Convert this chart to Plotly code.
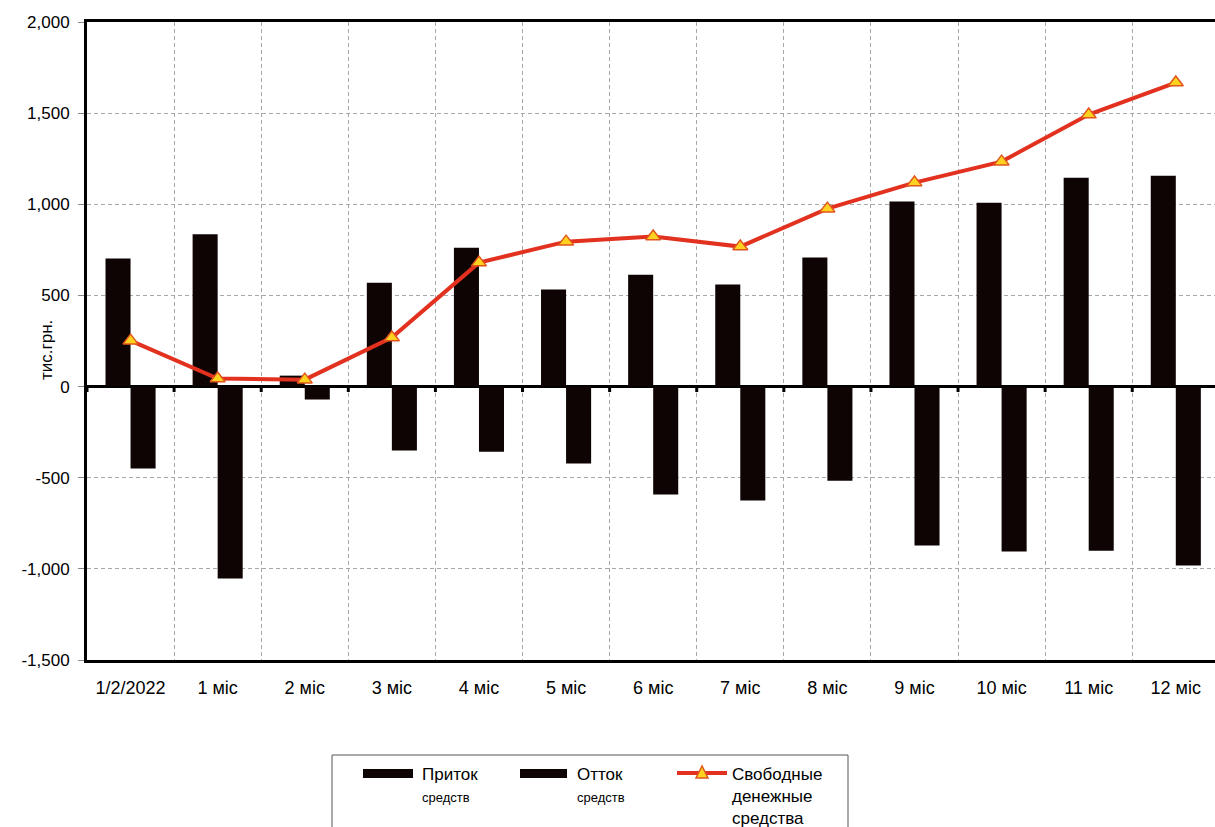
import plotly.graph_objects as go

# Periods along the horizontal axis
categories = ["1/2/2022", "1 міс", "2 міс", "3 міс", "4 міс", "5 міс", "6 міс",
              "7 міс", "8 міс", "9 міс", "10 міс", "11 міс", "12 міс"]

# Cash inflow, outflow and free cash balance (thousand UAH)
inflow = [702, 835, 60, 570, 762, 532, 614, 560, 708, 1015, 1009, 1146, 1157]
outflow = [-450, -1053, -71, -351, -357, -422, -592, -625, -516, -872, -905, -900, -982]
free_cash = [252, 44, 38, 269, 680, 795, 823, 768, 976, 1119, 1234, 1492, 1668]

y_ticks = [-1500, -1000, -500, 0, 500, 1000, 1500, 2000]
y_tick_text = [f"{v:,}" for v in y_ticks]

FONT = "Liberation Sans, Arial, sans-serif"
BAR_COLOR = "#0f0404"
LINE_COLOR = "#e2321f"
MARKER_FILL = "#ffd21f"
MARKER_EDGE = "#e0561c"
GRID_COLOR = "#a8a8a8"

# page geometry of the plotting area
W, H = 1215, 827
M_L, M_T, M_B = 87, 22, 167
PLOT_W = 1128
PLOT_H = H - M_T - M_B


def px_x(px):
    return (px - M_L) / PLOT_W


def px_y(py):
    return (H - M_B - py) / PLOT_H


x_pos = list(range(len(categories)))

fig = go.Figure()

fig.add_trace(go.Bar(
    x=x_pos, y=inflow, name="Приток средств",
    marker=dict(color=BAR_COLOR, line=dict(width=0)),
))
fig.add_trace(go.Bar(
    x=x_pos, y=outflow, name="Отток средств",
    marker=dict(color=BAR_COLOR, line=dict(width=0)),
))
fig.add_trace(go.Scatter(
    x=x_pos, y=free_cash, name="Свободные денежные средства",
    mode="lines+markers",
    line=dict(color=LINE_COLOR, width=4),
    marker=dict(symbol="triangle-up", size=13, color=MARKER_FILL,
                line=dict(color=MARKER_EDGE, width=1.5)),
))

shapes = []

# short tick marks on the zero line at the category boundaries
for i in range(len(categories)):
    shapes.append(dict(
        type="line", xref="x", yref="y",
        x0=i - 0.5, x1=i - 0.5, y0=0, y1=-30,
        line=dict(color="black", width=3),
    ))

# legend frame (runs off the bottom of the page)
shapes.append(dict(
    type="rect", xref="paper", yref="paper",
    x0=px_x(332), x1=px_x(848), y0=px_y(870), y1=px_y(755),
    line=dict(color="#555555", width=1), fillcolor="white", layer="above",
))
# legend keys for the two bar series
for left, right in [(363, 413), (520, 567)]:
    shapes.append(dict(
        type="rect", xref="paper", yref="paper",
        x0=px_x(left), x1=px_x(right), y0=px_y(778), y1=px_y(769),
        line=dict(width=0), fillcolor=BAR_COLOR, layer="above",
    ))
# legend key for the line series
shapes.append(dict(
    type="line", xref="paper", yref="paper",
    x0=px_x(677), x1=px_x(727), y0=px_y(773), y1=px_y(773),
    line=dict(color=LINE_COLOR, width=4), layer="above",
))
tri = [(702, 766), (696, 778), (708, 778)]
tri_path = "M {} {} L {} {} L {} {} Z".format(
    *[v for p in tri for v in (px_x(p[0]), px_y(p[1]))])
shapes.append(dict(
    type="path", xref="paper", yref="paper", path=tri_path,
    fillcolor=MARKER_FILL, line=dict(color=MARKER_EDGE, width=1.5), layer="above",
))

legend_texts = [
    ("Приток", 420, 774, 17),
    ("средств", 420, 798, 13),
    ("Отток", 575, 774, 17),
    ("средств", 575, 798, 13),
    ("Свободные", 730, 774, 17),
    ("денежные", 730, 796, 17),
    ("средства", 730, 818, 17),
]

annotations = [dict(
    text="тис.грн.", textangle=-90,
    xref="paper", yref="paper", x=px_x(46), y=px_y(350),
    xanchor="center", yanchor="middle", showarrow=False,
    font=dict(family=FONT, size=17, color="black"),
)]
for txt, lx, ly, fs in legend_texts:
    annotations.append(dict(
        text=txt, xref="paper", yref="paper", x=px_x(lx), y=px_y(ly),
        xanchor="left", yanchor="middle", showarrow=False,
        font=dict(family=FONT, size=fs, color="black"),
    ))

fig.update_layout(
    width=W, height=H,
    margin=dict(l=M_L, r=0, t=M_T, b=M_B),
    paper_bgcolor="white", plot_bgcolor="white",
    barmode="group", bargap=0.425, bargroupgap=0,
    font=dict(family=FONT, size=17, color="black"),
    showlegend=False,
    shapes=shapes,
    annotations=annotations,
    xaxis=dict(
        range=[-0.5, 12.45],
        tickmode="array", tickvals=x_pos, ticktext=categories,
        showgrid=False,
        minor=dict(tick0=0.5, dtick=1, showgrid=True, gridcolor=GRID_COLOR,
                   griddash="4px,3px", gridwidth=1, ticks=""),
        showline=True, linecolor="black", linewidth=2.5, mirror=True,
        ticks="", zeroline=False, ticklabelstandoff=10,
        tickfont=dict(family=FONT, size=18),
        fixedrange=True,
    ),
    yaxis=dict(
        range=[-1500, 2000],
        tickmode="array", tickvals=y_ticks, ticktext=y_tick_text,
        showgrid=True, gridcolor=GRID_COLOR, griddash="4px,3px", gridwidth=1,
        zeroline=True, zerolinecolor="black", zerolinewidth=3,
        showline=True, linecolor="black", linewidth=3,
        ticks="outside", ticklen=6, tickcolor="#888888",
        ticklabelstandoff=5,
        tickfont=dict(family=FONT, size=17),
        fixedrange=True,
    ),
)

fig.write_html("out.html")
